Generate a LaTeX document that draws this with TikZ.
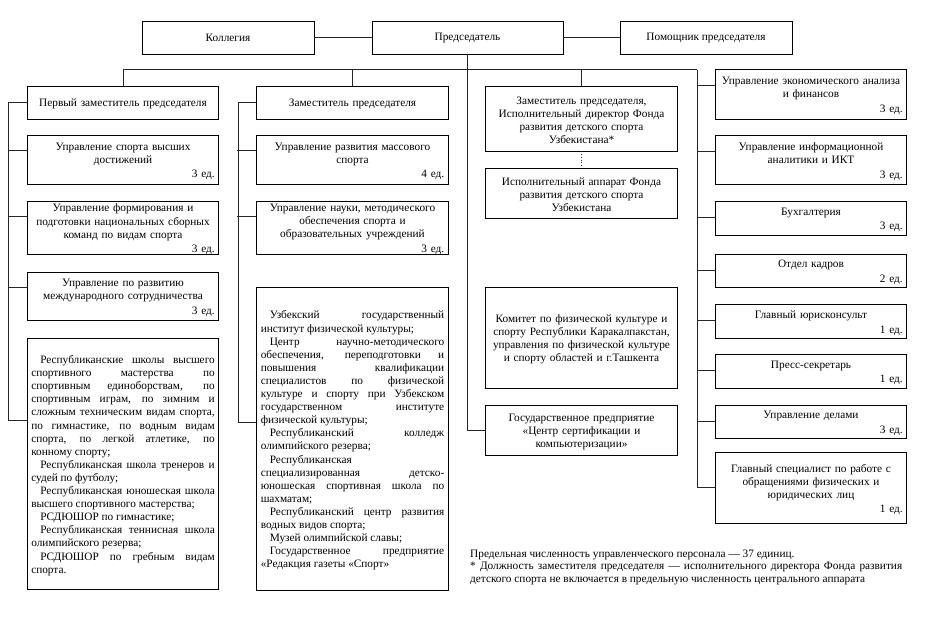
\documentclass[tikz,border=0pt]{standalone}
\usepackage{fontspec}
\setmainfont{Liberation Serif}
\newcommand\withed[2]{{\centering #1\par}\vspace{1.5pt}{\raggedleft #2\par}}
\newcommand\ind{\hspace*{9pt}}
\newcommand\lowerend{\par\vspace*{-4pt}}
\newcommand\jsetup{\tolerance=10000\hyphenpenalty=10000\exhyphenpenalty=10000\relax}
\begin{document}
\begin{tikzpicture}[x=1pt,y=-1pt,
  every node/.style={font=\fontsize{11.3}{13.1}\selectfont},
  box/.style={draw=black, line width=0.9pt, inner xsep=4pt, inner ysep=0pt,
    text width=183.5pt, minimum height=#1, execute at end node=\lowerend},
  cbox/.style={box=#1, align=center},
  topbox/.style={draw=black, line width=0.9pt, inner sep=0pt, minimum height=33pt},
  link/.style={draw=black!85, line width=0.7pt},
  jtext/.style={box=#1, align=justify, execute at begin node=\jsetup}
]
\useasboundingbox (0,0) rectangle (926,625);

% top row
\node[topbox, minimum width=172pt] (ko) at (228,37.5) {Коллегия};
\node[topbox, minimum width=191pt] (ch) at (467.5,37.5) {Председатель};
\node[topbox, minimum width=172pt] (po) at (706,37.5) {Помощник председателя};

% deputies
\node[cbox=33pt, execute at end node={}] (fz) at (123,102.5) {Первый заместитель председателя};
\node[cbox=33pt, execute at end node={}] (zm) at (352.5,102.5) {Заместитель председателя};
\node[cbox=65pt] (zi) at (581.5,118.5) {Заместитель председателя,\\ Исполнительный директор Фонда\\ развития детского спорта\\ Узбекистана*};
\node[cbox=50pt] (ia) at (581.5,193) {Исполнительный аппарат Фонда\\ развития детского спорта\\ Узбекистана};
\node[cbox=101pt] (kk) at (581.5,337.5) {Комитет по физической культуре и\\ спорту Республики Каракалпакстан,\\ управления по физической культуре\\ и спорту областей и г.Ташкента};
\node[cbox=50pt] (gp) at (581.5,430) {Государственное предприятие\\ «Центр сертификации и\\ компьютеризации»};

% left column
\node[box=49pt] (vd) at (123,159.5) {\withed{Управление спорта высших\\ достижений}{3 ед.}};
\node[box=53pt] (uf) at (123,227.5) {\withed{Управление формирования и\\ подготовки национальных сборных\\ команд по видам спорта}{3 ед.}};
\node[box=48pt] (mc) at (123,296) {\withed{Управление по развитию\\ международного сотрудничества}{3 ед.}};
\node[jtext=251pt] (rs) at (123,463.5) {\ind Республиканские школы высшего\linebreak
спортивного мастерства по\linebreak
спортивным единоборствам, по\linebreak
спортивным играм, по зимним и\linebreak
сложным техническим видам спорта,\linebreak
по гимнастике, по водным видам\linebreak
спорта, по легкой атлетике, по\linebreak
конному спорту;\par
\ind Республиканская школа тренеров и\linebreak
судей по футболу;\par
\ind Республиканская юношеская школа\linebreak
высшего спортивного мастерства;\par
\ind РСДЮШОР по гимнастике;\par
\ind Республиканская теннисная школа\linebreak
олимпийского резерва;\par
\ind РСДЮШОР по гребным видам\linebreak
спорта.\par};

% middle column
\node[box=49pt] (ms) at (352.5,159.5) {\withed{Управление развития массового\\ спорта}{4 ед.}};
\node[box=53pt] (un) at (352.5,227.5) {\withed{Управление науки, методического\\ обеспечения спорта и\\ образовательных учреждений}{3 ед.}};
\node[jtext=303pt] (uz) at (352.5,438.5) {\ind Узбекский государственный\linebreak
институт физической культуры;\par
\ind Центр научно-методического\linebreak
обеспечения, переподготовки и\linebreak
повышения квалификации\linebreak
специалистов по физической\linebreak
культуре и спорту при Узбекском\linebreak
государственном институте\linebreak
физической культуры;\par
\ind Республиканский колледж\linebreak
олимпийского резерва;\par
\ind Республиканская\linebreak
специализированная детско-\linebreak
юношеская спортивная школа по\linebreak
шахматам;\par
\ind Республиканский центр развития\linebreak
водных видов спорта;\par
\ind Музей олимпийской славы;\par
\ind Государственное предприятие\linebreak
«Редакция газеты «Спорт»\par};

% right column
\node[box=50pt] (ea) at (811,94) {\withed{Управление экономического анализа\\ и финансов}{3 ед.}};
\node[box=49pt] (ik) at (811,159.5) {\withed{Управление информационной\\ аналитики и ИКТ}{3 ед.}};
\node[box=34pt] (bu) at (811,218) {\withed{Бухгалтерия}{3 ед.}};
\node[box=33pt] (ok) at (811,270.5) {\withed{Отдел кадров}{2 ед.}};
\node[box=34pt] (yu) at (811,321) {\withed{Главный юрисконсульт}{1 ед.}};
\node[box=34pt] (ps) at (811,371) {\withed{Пресс-секретарь}{1 ед.}};
\node[box=33pt] (ud) at (811,421.5) {\withed{Управление делами}{3 ед.}};
\node[box=71pt] (gs) at (811,487.5) {\withed{Главный специалист по работе с\\ обращениями физических и\\ юридических лиц}{1 ед.}};

% footnote
\node[anchor=north west, inner sep=0pt, text width=432pt, align=justify,
  font=\fontsize{11.3}{12.5}\selectfont] (fn) at (470,549.5)
  {Предельная численность управленческого персонала — 37 единиц.\par
  * Должность заместителя председателя — исполнительного директора Фонда развития\linebreak
  детского спорта не включается в предельную численность центрального аппарата\par};

% connectors
\coordinate (busL) at (123,69.5);
\coordinate (busR) at (697,69.5);
\coordinate (lt) at (8,420);
\coordinate (mt) at (238,422);

\draw[link] (ko) -- (ch);
\draw[link] (ch) -- (po);
\draw[link] (busL) -- (busR);
\draw[link] (ch.south) |- (gp.west);
\draw[link] (fz.north |- busL) -- (fz.north);
\draw[link] (zm.north |- busL) -- (zm.north);
\draw[link] (zi.north |- busL) -- (zi.north);
\draw[link, dotted] (zi.south) -- (ia.north);

\draw[link] (fz.west) -| (lt) -- (lt -| rs.west);
\draw[link] (zm.west) -| (mt) -- (mt -| uz.west);
\draw[link] (busR) |- (gs.west);

\foreach \n in {vd,uf,mc}{\draw[link] ([yshift=-16pt]\n.north west) -- ++(-19,0);}
\foreach \n in {ms,un}{\draw[link] ([yshift=-16pt]\n.north west) -- ++(-19,0);}
\foreach \n in {ea,ik,bu,ok,yu,ps,ud}{\draw[link] ([yshift=-17pt]\n.north west) -- ++(-18,0);}
\end{tikzpicture}
\end{document}
